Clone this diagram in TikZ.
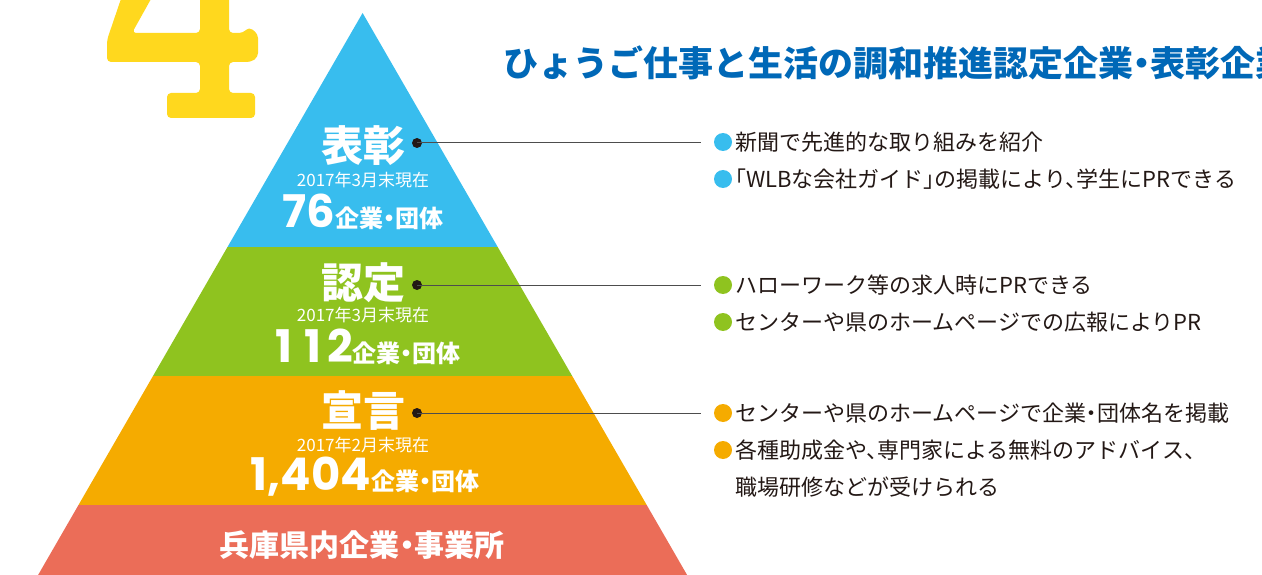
\documentclass[tikz,border=0pt]{standalone}
\usepackage{fontspec}
\newfontfamily\jp{Noto Sans CJK JP}[RawFeature=+halt]
\newfontfamily\numf{Poppins}
\definecolor{blueP}{HTML}{38BDEE}
\definecolor{greenP}{HTML}{8FC31F}
\definecolor{orangeP}{HTML}{F5AB00}
\definecolor{redP}{HTML}{EB6D58}
\definecolor{titleblue}{HTML}{0068B7}
\definecolor{yellowF}{HTML}{FFD81E}
\definecolor{dotc}{HTML}{231815}
\definecolor{linec}{HTML}{4D4D4D}
\definecolor{textc}{HTML}{231815}
\begin{document}
\begin{tikzpicture}[x=1pt,y=-1pt,
  headw/.style={text=white, font=\jp\bfseries\fontsize{42}{42}\selectfont, inner sep=0},
  datew/.style={text=white, font=\jp\fontsize{17}{17}\selectfont, inner sep=0},
  countw/.style={text=white, inner sep=0, anchor=base},
  dotn/.style={circle, fill=dotc, minimum size=10pt, inner sep=0},
  bul/.style={circle, minimum size=18pt, inner sep=0},
  item/.style={anchor=west, text=textc, font=\jp\fontsize{22}{22}\selectfont, inner sep=0},
  conn/.style={draw=linec, line width=1pt}]
\newcommand\bignum[1]{{\numf\bfseries\fontsize{45}{45}\selectfont #1}}
\newcommand\orgs{{\jp\bfseries\fontsize{24}{24}\selectfont 企業・団体}}
\newcommand\wone{\makebox[29pt]{1}}
\useasboundingbox (0,0) rectangle (1262,575);
\begin{scope}
\clip (0,0) rectangle (1262,575);
% big yellow 4
\fill[yellowF, rounded corners=4pt]
  (124,-10) -- (156,-10) -- (132,33) -- (200,33) -- (200,-10) -- (229,-10)
  -- (229,33) -- (243,33) -- (249,27) -- (258,34) -- (258,57) -- (251,62)
  -- (229,62) -- (229,93) -- (255,93) -- (255,118) -- (167,118) -- (167,93)
  -- (200,93) -- (200,62) -- (107,62) -- (107,40) -- cycle;
% pyramid layers
\fill[blueP] (362.6,13) -- (497.7,247) -- (227.5,247) -- cycle;
\fill[greenP] (227.5,247) -- (497.7,247) -- (572.2,376) -- (153.0,376) -- cycle;
\fill[orangeP] (153.0,376) -- (572.2,376) -- (646.7,505) -- (78.5,505) -- cycle;
\fill[redP] (78.5,505) -- (646.7,505) -- (687.1,575) -- (38.1,575) -- cycle;
% title
\node[anchor=west, inner sep=0, text=titleblue, font=\jp\bfseries\fontsize{35}{35}\selectfont] (title) at (503,63) {ひょうご仕事と生活の調和推進認定企業・表彰企業};
\end{scope}

% top layer
\node[headw] (h1) at (363,146) {表彰};
\node[datew] (d1) at (363,180.5) {2017年3月末現在};
\node[countw] (c1) at (363,227) {\bignum{76}\orgs};
% middle layer
\node[headw] (h2) at (363,283) {認定};
\node[datew] (d2) at (363,315.5) {2017年3月末現在};
\node[countw] (c2) at (365,362) {\bignum{\wone\wone 2}\orgs};
% lower layer
\node[headw] (h3) at (363,411) {宣言};
\node[datew] (d3) at (363,445.5) {2017年2月末現在};
\node[countw] (c3) at (365,490) {\bignum{1,404}\orgs};
% base
\node[text=white, inner sep=0, font=\jp\bfseries\fontsize{30}{30}\selectfont] (base) at (362,545) {兵庫県内企業・事業所};

% dots and connectors
\node[dotn] (p1) at (417,143) {};
\node[dotn] (p2) at (417,285) {};
\node[dotn] (p3) at (417,413) {};
\coordinate (e1) at (701,143);
\coordinate (e2) at (701,285);
\coordinate (e3) at (701,413);
\draw[conn] (p1.center) -- (e1);
\draw[conn] (p2.center) -- (e2);
\draw[conn] (p3.center) -- (e3);

% bullets and items
\node[bul, fill=blueP] (b11) at (723,142) {};
\node[item] (t11) at (735,142) {新聞で先進的な取り組みを紹介};
\node[bul, fill=blueP] (b12) at (723,179) {};
\node[item] (t12) at (735,179) {「WLBな会社ガイド」の掲載により、学生にPRできる};

\node[bul, fill=greenP] (b21) at (723,285) {};
\node[item] (t21) at (735,285) {ハローワーク等の求人時にPRできる};
\node[bul, fill=greenP] (b22) at (723,322) {};
\node[item] (t22) at (735,322) {センターや県のホームページでの広報によりPR};

\node[bul, fill=orangeP] (b31) at (723,413) {};
\node[item] (t31) at (735,413) {センターや県のホームページで企業・団体名を掲載};
\node[bul, fill=orangeP] (b32) at (723,450) {};
\node[item] (t32) at (735,450) {各種助成金や、専門家による無料のアドバイス、};
\node[item] (t33) at (735,487) {職場研修などが受けられる};
\end{tikzpicture}
\end{document}
